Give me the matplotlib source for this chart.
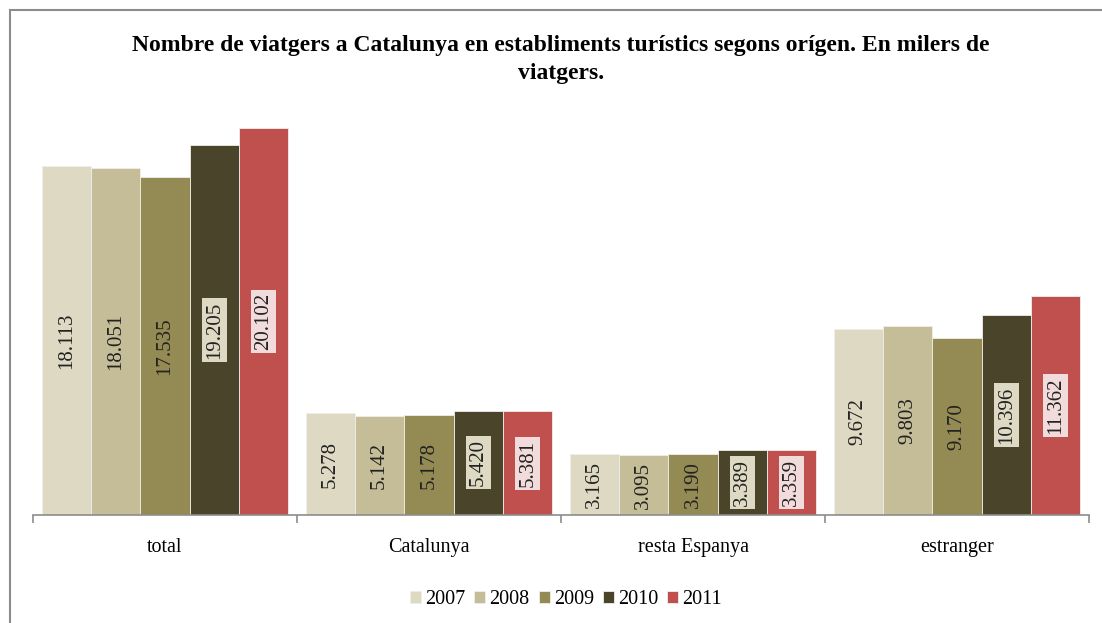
import matplotlib.pyplot as plt
import numpy as np
from matplotlib.patches import Rectangle

# Data: thousands of travellers by origin
categories = ['total', 'Catalunya', 'resta Espanya', 'estranger']
years = ['2007', '2008', '2009', '2010', '2011']
v2007 = [18113, 5278, 3165, 9672]
v2008 = [18051, 5142, 3095, 9803]
v2009 = [17535, 5178, 3190, 9170]
v2010 = [19205, 5420, 3389, 10396]
v2011 = [20102, 5381, 3359, 11362]
series = [v2007, v2008, v2009, v2010, v2011]

colors = ['#DDD9C3', '#C4BD97', '#948A54', '#4A452A', '#C0504D']
label_boxes = [None, None, None, '#DDD9C3', '#F2DCDB']

plt.rcParams['font.family'] = ['Liberation Serif', 'DejaVu Serif']

fig = plt.figure(figsize=(11.02, 6.23), dpi=100)
ax = fig.add_axes([33 / 1102, 1 - 515 / 623, (1089 - 33) / 1102, (515 - 91.5) / 623])

# frame around the chart area
fig.patches.append(Rectangle((10 / 1102, -0.1), 1.2, 1 - 10 / 623 + 0.1,
                             transform=fig.transFigure, fill=False,
                             edgecolor='#8C8C8C', linewidth=1.5))

x = np.arange(len(categories))
width = 0.187
for i, (vals, col) in enumerate(zip(series, colors)):
    pos = x + (i - 2) * width
    ax.bar(pos, vals, width, color=col, edgecolor='#F0EEE8', linewidth=0.6, label=years[i])
    for p, v in zip(pos, vals):
        txt = f'{v / 1000:.3f}'
        box = None
        if label_boxes[i]:
            box = dict(boxstyle='square,pad=0.15', facecolor=label_boxes[i], edgecolor='none')
        ax.text(p, v / 2, txt, rotation=90, ha='center', va='center',
                fontsize=15, color='#222222', bbox=box)

ax.set_xlim(-0.5, 3.5)
ax.set_ylim(0, 22000)
ax.set_yticks([])
for s in ['top', 'right', 'left']:
    ax.spines[s].set_visible(False)
ax.spines['bottom'].set_color('#8C8C8C')
ax.spines['bottom'].set_linewidth(1.2)

ax.set_xticks([-0.5, 0.5, 1.5, 2.5, 3.5])
ax.set_xticklabels([])
ax.tick_params(axis='x', direction='out', length=6, color='#8C8C8C', width=1.2)
for xi, c in zip(x, categories):
    ax.text(xi, -1700, c, ha='center', va='center', fontsize=14.5)

fig.text(561 / 1102, 1 - 59.5 / 623,
         'Nombre de viatgers a Catalunya en establiments turístics segons orígen. En milers de\nviatgers.',
         ha='center', va='center', fontsize=17, fontweight='bold', linespacing=1.48)

fig.legend(loc='center', bbox_to_anchor=(566 / 1102, 1 - 600 / 623), ncol=5, frameon=False,
           fontsize=14.5, handlelength=0.55, handleheight=0.55, handletextpad=0.2,
           columnspacing=0.45)

fig.savefig('out.png', dpi=100)
